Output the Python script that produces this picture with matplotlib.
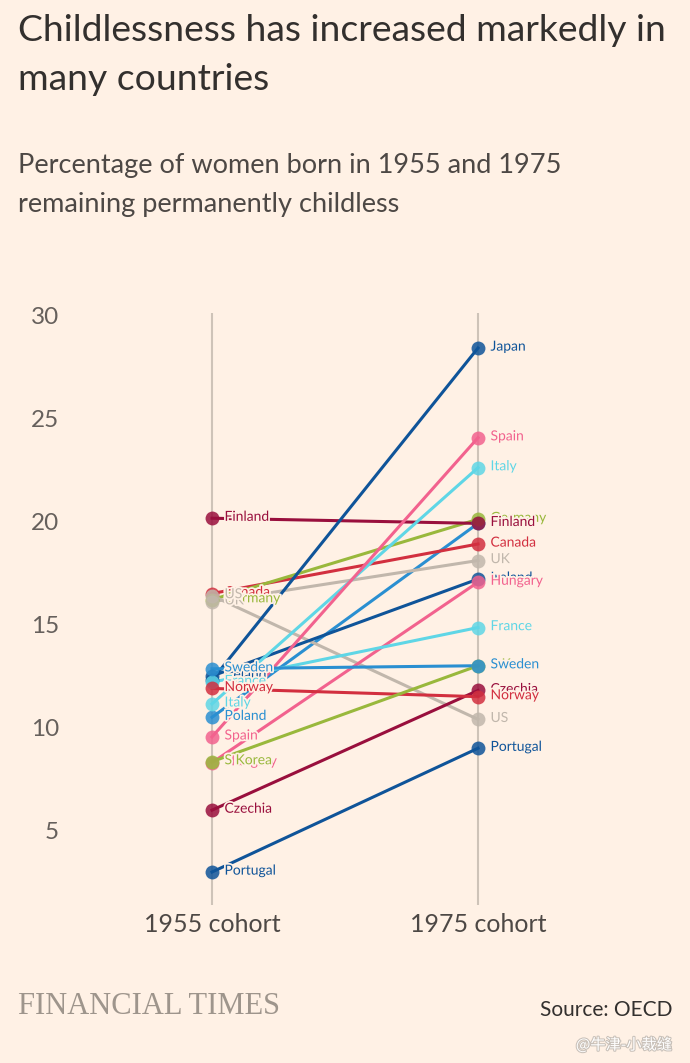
import matplotlib
matplotlib.use("Agg")
import matplotlib.pyplot as plt
import matplotlib.patheffects as pe

BG = "#fff1e5"

countries = ["Poland", "Canada", "Germany", "UK", "US", "Finland", "Japan", "Ireland", "Hungary",
             "France", "Italy", "Spain", "Czechia", "Norway", "S Korea", "Sweden", "Portugal"]
v1955 = [10.5, 16.5, 16.2, 16.1, 16.4, 20.15, 12.3, 12.5, 8.3,
         12.2, 11.15, 9.55, 6.0, 11.9, 8.35, 12.85, 3.0]
v1975 = [19.9, 18.9, 20.1, 18.1, 10.4, 19.9, 28.4, 17.2, 17.05,
         14.85, 22.6, 24.05, 11.8, 11.5, 13.0, 13.0, 9.0]
palette = {
    "darkblue": "#0f5499", "blue": "#2a8fd1", "cyan": "#5fd6e6", "pink": "#f2628e",
    "claret": "#990f3d", "red": "#d22f3f", "green": "#99b83c", "grey": "#c1b7ac",
}
country_colors = ["blue", "red", "green", "grey", "grey", "claret", "darkblue", "darkblue", "pink",
                  "cyan", "cyan", "pink", "claret", "red", "green", "blue", "darkblue"]
cohorts = ["1955 cohort", "1975 cohort"]
yticks = [5, 10, 15, 20, 25, 30]

plt.rcParams["font.family"] = ["Lato", "DejaVu Sans"]

fig = plt.figure(figsize=(6.9, 10.63), dpi=100, facecolor=BG)
ax = fig.add_axes([70 / 690, 0.1486, 580 / 690, 0.557])
ax.set_facecolor(BG)
ax.set_xlim((70 - 212) / 266, (650 - 212) / 266)
ax.set_ylim(1.4, 30.1)

for xv in [0, 1]:
    ax.axvline(xv, color="#cec3b8", lw=1.5, zorder=1)

halo = [pe.withStroke(linewidth=2.5, foreground=BG)]
for i, c in enumerate(countries):
    col = palette[country_colors[i]]
    ax.plot([0, 1], [v1955[i], v1975[i]], color=col, lw=2.2, zorder=2)
    ax.plot([0, 1], [v1955[i], v1975[i]], "o", color=col, ms=10, mec="none",
            alpha=0.85, zorder=3)
for i, c in enumerate(countries):
    col = palette[country_colors[i]]
    for xv, yv in [(0, v1955[i]), (1, v1975[i])]:
        ax.annotate(c, (xv, yv), xytext=(9, 1), textcoords="offset points",
                    ha="left", va="center", fontsize=10, color=col,
                    path_effects=halo, zorder=4 + i * 0.01)

for s in ax.spines.values():
    s.set_visible(False)
ax.set_yticks(yticks)
ax.set_yticklabels([str(t) for t in yticks])
ax.set_xticks([0, 1])
ax.set_xticklabels(cohorts)
ax.tick_params(axis="y", length=0, labelsize=17.5, labelcolor="#66605c", pad=8)
ax.tick_params(axis="x", length=0, labelsize=18, labelcolor="#4d4845", pad=6)

fig.text(18 / 690, 1 - 14 / 1063, "Childlessness has increased markedly in\nmany countries",
         fontsize=26.8, color="#33302e", va="top", ha="left", linespacing=1.6)
fig.text(18 / 690, 1 - 153 / 1063, "Percentage of women born in 1955 and 1975\nremaining permanently childless",
         fontsize=19.5, color="#4d4845", va="top", ha="left", linespacing=1.7)
fig.text(18 / 690, 1 - 1006 / 1063, "FINANCIAL TIMES", family=["Liberation Serif"],
         fontsize=22, color="#9e958c", va="center", ha="left")
fig.text(672 / 690, 1 - 1010 / 1063, "Source: OECD", fontsize=15, color="#33302e",
         va="center", ha="right")
fig.text(672 / 690, 1 - 1045 / 1063, "@牛津-小裁缝", family=["Noto Sans CJK SC", "DejaVu Sans"],
         fontsize=11, color="#ffffff", va="center", ha="right",
         path_effects=[pe.withStroke(linewidth=1.5, foreground="#c8c0b8")])

fig.savefig("out.png", dpi=100, facecolor=BG)
